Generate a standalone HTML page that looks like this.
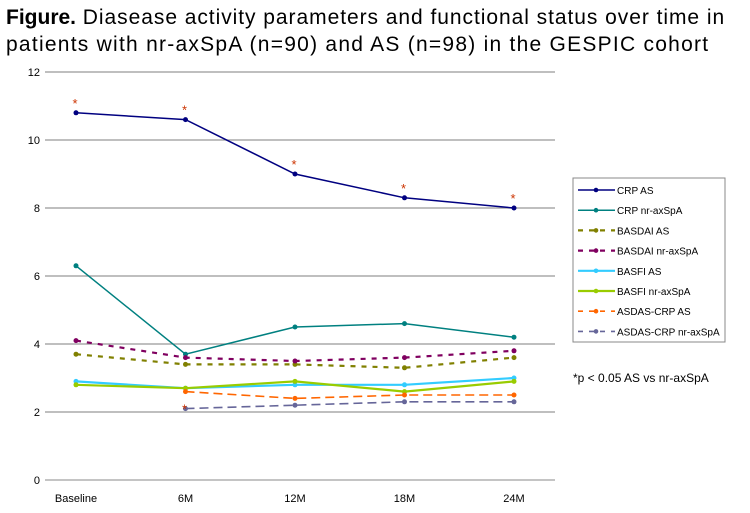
<!DOCTYPE html>
<html><head><meta charset="utf-8"><style>
body{margin:0;background:#fff;font-family:"Liberation Sans",Arial,sans-serif}
#wrap{position:relative;width:750px;height:513px;overflow:hidden}
.title{position:absolute;left:6px;top:4px;font-size:21px;line-height:27px;color:#000;white-space:nowrap}
.title span{letter-spacing:0.95px}
</style></head><body>
<div id="wrap">
<div class="title"><b>Figure.</b><span> Diasease activity parameters and functional status over time in</span><br><span style="letter-spacing:1.25px">patients with nr-axSpA (n=90) and AS (n=98) in the GESPIC cohort</span></div>
<svg id="svg" width="750" height="513" style="position:absolute;left:0;top:0"></svg>
</div>
<script>
const categories=["Baseline","6M","12M","18M","24M"];
const yTicks=[0,2,4,6,8,10,12];
const seriesNames=["CRP AS","CRP nr-axSpA","BASDAI AS","BASDAI nr-axSpA","BASFI AS","BASFI nr-axSpA","ASDAS-CRP AS","ASDAS-CRP nr-axSpA"];
const crpAS=[10.8,10.6,9.0,8.3,8.0];
const crpNr=[6.3,3.7,4.5,4.6,4.2];
const basdaiAS=[3.7,3.4,3.4,3.3,3.6];
const basdaiNr=[4.1,3.6,3.5,3.6,3.8];
const basfiAS=[2.9,2.7,2.8,2.8,3.0];
const basfiNr=[2.8,2.7,2.9,2.6,2.9];
const asdasAS=[null,2.6,2.4,2.5,2.5];
const asdasNr=[null,2.1,2.2,2.3,2.3];
const sigCrp=[true,true,true,true,true];
const sigAsdas=[false,true,false,false,false];

const NS="http://www.w3.org/2000/svg";
const svg=document.getElementById('svg');
function mk(t,a){const e=document.createElementNS(NS,t);for(const k in a)e.setAttribute(k,a[k]);svg.appendChild(e);return e;}
const y0=480,y1=72,xL=45,xR=555;
function ys(v){return y0-(v-0)/(12-0)*(y0-y1);}
function xs(i){return 76+i*109.5;}

yTicks.forEach(t=>{
  const g=mk('line',{x1:xL,x2:xR,y1:ys(t),y2:ys(t),stroke:t===0?'#888':'#999','stroke-width':t===0?1:1.3});
  
  
  const l=mk('text',{x:40,y:ys(t)+4,'text-anchor':'end','font-size':11,fill:'#000'});
  l.textContent=t;
  
  
});
categories.forEach((c,i)=>{
  const l=mk('text',{x:xs(i),y:502,'text-anchor':'middle','font-size':11,fill:'#000'});
  l.textContent=c;
  
  
});
const styles=[
 {d:crpAS,c:'#000080',da:'',w:1.5},
 {d:crpNr,c:'#008080',da:'',w:1.5},
 {d:basdaiAS,c:'#808000',da:'5,6',w:2.2},
 {d:basdaiNr,c:'#800060',da:'5,6',w:2.2},
 {d:basfiAS,c:'#33ccff',da:'',w:2.2},
 {d:basfiNr,c:'#99cc00',da:'',w:2.2},
 {d:asdasAS,c:'#ff6600',da:'9,5',w:1.6},
 {d:asdasNr,c:'#666699',da:'9,5',w:1.6}
];
styles.forEach((s,k)=>{
  const pts=[];s.d.forEach((v,i)=>{if(v!==null)pts.push([xs(i),ys(v)]);});
  const p=mk('polyline',{points:pts.map(p=>p.join(',')).join(' '),fill:'none',stroke:s.c,'stroke-width':s.w,'stroke-dasharray':s.da});
  
  
  pts.forEach(pt=>{
    const c=mk('circle',{cx:pt[0],cy:pt[1],r:2.5,fill:s.c});
    
    
  });
  const ly=190+k*20.2;
  const ll=mk('line',{x1:578,x2:615,y1:ly,y2:ly,stroke:s.c,'stroke-width':s.w,'stroke-dasharray':s.da?'5,6':''});
  
  
  mk('circle',{cx:596,cy:ly,r:2.3,fill:s.c});
  const lt=mk('text',{x:617,y:ly+4,'font-size':10,fill:'#000'});
  lt.textContent=seriesNames[k];
  
  
});
const box=mk('rect',{x:573,y:178,width:152,height:164,fill:'none',stroke:'#888'});


sigCrp.forEach((s,i)=>{if(s){const t=mk('text',{x:xs(i)-1,y:ys(crpAS[i])-5,'text-anchor':'middle','font-size':13,fill:'#cc3300'});t.textContent='*';
  
  }});
sigAsdas.forEach((s,i)=>{if(s){const t=mk('text',{x:xs(i)-1,y:ys(asdasAS[i])+22,'text-anchor':'middle','font-size':13,fill:'#cc3300'});t.textContent='*';
  
  }});
const fn=mk('text',{x:573,y:382,'font-size':12,fill:'#000'});
fn.textContent='*p < 0.05 AS vs nr-axSpA';


</script>
</body></html>
